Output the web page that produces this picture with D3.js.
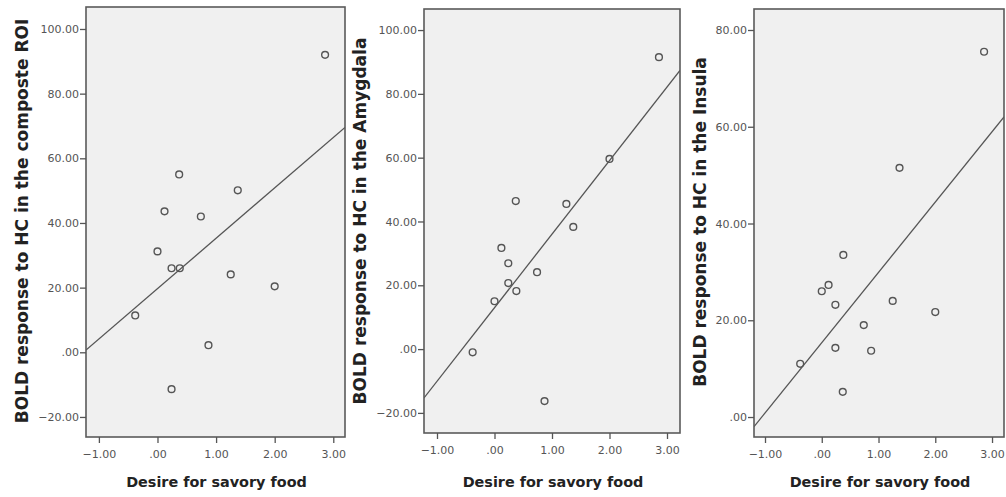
<!DOCTYPE html>
<html>
<head>
<meta charset="utf-8">
<script src="https://cdn.jsdelivr.net/npm/d3@7"></script>
<style>
  body { margin: 0; background: #fff; }
  svg { display: block; }
  .tick text { font-family: "DejaVu Sans", sans-serif; font-size: 11px; fill: #555; }
  .tick line { stroke: #555; stroke-width: 1.3; }
  .title { font-family: "DejaVu Sans", sans-serif; font-weight: bold; fill: #222; }
  .xtitle { font-size: 14.4px; }
  .ytitle { font-size: 17px; }
</style>
</head>
<body>
<div id="chart"></div>
<script>
// values (same subjects on x)
var desire = [-0.38, 0.00, 0.12, 0.24, 0.24, 0.37, 0.38, 0.74, 0.87, 1.25, 1.37, 2.00, 2.86];
var boldComposite = [11.4, 31.2, 43.6, 26.0, -11.4, 55.0, 26.0, 42.0, 2.2, 24.1, 50.1, 20.4, 92.0];
var boldAmygdala = [-1.0, 15.0, 31.7, 26.9, 20.7, 46.4, 18.2, 24.1, -16.3, 45.5, 38.3, 59.6, 91.5];
var boldInsula = [11.0, 26.0, 27.3, 23.2, 14.3, 5.2, 33.5, 19.0, 13.7, 24.0, 51.5, 21.7, 75.5];

var xTicks = [-1, 0, 1, 2, 3];
var yTicksWide = [-20, 0, 20, 40, 60, 80, 100];
var yTicksInsula = [0, 20, 40, 60, 80];

var xTitle = "Desire for savory food";
var yTitles = [
  "BOLD response to HC in the composte ROI",
  "BOLD response to HC in the Amygdala",
  "BOLD response to HC in the Insula"
];

var W = 1006, H = 497;

var svg = d3.select("#chart")
  .append("svg")
  .attr("width", W)
  .attr("height", H);

// panel boxes (pixels) and domains
var panels = [
  { ys: boldComposite, yTicks: yTicksWide, box: [86, 7, 345, 437], xd: [-1.22, 3.2], yd: [-26.2, 106.8], titleX: 28, titleY: 221 },
  { ys: boldAmygdala, yTicks: yTicksWide, box: [424, 9, 680, 433], xd: [-1.226, 3.226], yd: [-26.3, 106.6], titleX: 366, titleY: 221 },
  { ys: boldInsula, yTicks: yTicksInsula, box: [754, 9, 1004, 437], xd: [-1.194, 3.211], yd: [-4.13, 84.34], titleX: 706, titleY: 222 }
];

function fmt(v) {
  return v === 0 ? ".00" : d3.format(".2f")(v);
}

// least squares fit line
function fit(xs, ys) {
  var mx = d3.mean(xs), my = d3.mean(ys);
  var sxy = 0, sxx = 0;
  for (var i = 0; i < xs.length; i++) {
    sxy += (xs[i] - mx) * (ys[i] - my);
    sxx += (xs[i] - mx) * (xs[i] - mx);
  }
  var b = sxy / sxx;
  return { a: my - b * mx, b: b };
}

panels.forEach(function (p, i) {
  var x0 = p.box[0], y0 = p.box[1], x1 = p.box[2], y1 = p.box[3];
  var x = d3.scaleLinear().domain(p.xd).range([x0, x1]);
  var y = d3.scaleLinear().domain(p.yd).range([y1, y0]);

  var g = svg.append("g");

  g.append("clipPath")
    .attr("id", "clip" + i)
    .append("rect")
    .attr("x", x0).attr("y", y0)
    .attr("width", x1 - x0).attr("height", y1 - y0);

  g.append("rect")
    .attr("x", x0).attr("y", y0)
    .attr("width", x1 - x0).attr("height", y1 - y0)
    .attr("fill", "#f0f0f0");

  // regression line
  var f = fit(desire, p.ys);
  g.append("line")
    .attr("clip-path", "url(#clip" + i + ")")
    .attr("x1", x(p.xd[0])).attr("y1", y(f.a + f.b * p.xd[0]))
    .attr("x2", x(p.xd[1])).attr("y2", y(f.a + f.b * p.xd[1]))
    .attr("stroke", "#555")
    .attr("stroke-width", 1.3);

  // points
  g.append("g")
    .selectAll("circle")
    .data(desire.map(function (d, k) { return [d, p.ys[k]]; }))
    .enter()
    .append("circle")
    .attr("cx", function (d) { return x(d[0]); })
    .attr("cy", function (d) { return y(d[1]); })
    .attr("r", 3.4)
    .attr("fill", "none")
    .attr("stroke", "#555")
    .attr("stroke-width", 1.4);

  // frame
  g.append("rect")
    .attr("x", x0).attr("y", y0)
    .attr("width", x1 - x0).attr("height", y1 - y0)
    .attr("fill", "none")
    .attr("stroke", "#5a5a5a")
    .attr("stroke-width", 1.6);

  // axes
  g.append("g")
    .attr("transform", "translate(" + x0 + ",0)")
    .call(d3.axisLeft(y).tickValues(p.yTicks).tickFormat(fmt).tickSize(6).tickPadding(1))
    .call(function (a) { a.select(".domain").remove(); });

  g.append("g")
    .attr("transform", "translate(0," + y1 + ")")
    .call(d3.axisBottom(x).tickValues(xTicks).tickFormat(fmt).tickSize(6).tickPadding(7))
    .call(function (a) { a.select(".domain").remove(); });

  // titles
  g.append("text")
    .attr("class", "title xtitle")
    .attr("x", (x0 + x1) / 2 + 1)
    .attr("y", 487)
    .attr("text-anchor", "middle")
    .text(xTitle);

  g.append("text")
    .attr("class", "title ytitle")
    .attr("transform", "translate(" + p.titleX + "," + p.titleY + ")rotate(-90)")
    .attr("text-anchor", "middle")
    .text(yTitles[i]);
});
</script>
</body>
</html>
